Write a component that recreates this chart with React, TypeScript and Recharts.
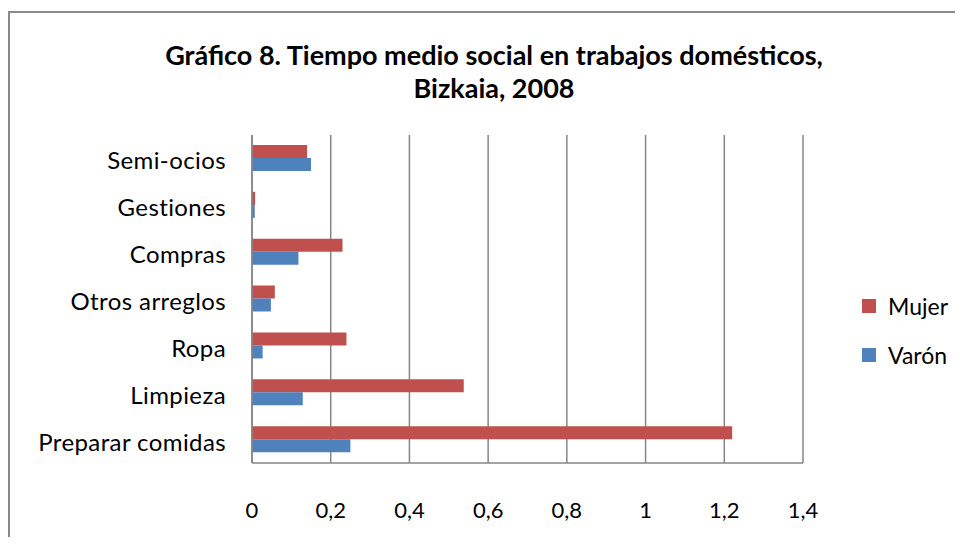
import React from "react";
import { BarChart, Bar, XAxis, YAxis, CartesianGrid } from "recharts";

const categories = [
  "Semi-ocios",
  "Gestiones",
  "Compras",
  "Otros arreglos",
  "Ropa",
  "Limpieza",
  "Preparar comidas",
];
const mujer = [0.14, 0.008, 0.23, 0.058, 0.24, 0.538, 1.22];
const varon = [0.15, 0.007, 0.118, 0.048, 0.027, 0.129, 0.25];
const xTicks = [0, 0.2, 0.4, 0.6, 0.8, 1, 1.2, 1.4];

const data = categories.map((name, i) => ({
  name,
  Mujer: mujer[i],
  Varón: varon[i],
}));

const FONT = "Lato, 'Open Sans', sans-serif";
const GRID = "#868686";
const RED = "#C0504D";
const BLUE = "#4F81BD";

const legendItems = [
  { label: "Mujer", color: RED },
  { label: "Varón", color: BLUE },
];

function CategoryTick({ x, y, payload }: { x?: number; y?: number; payload?: { value: string } }) {
  return (
    <text
      x={x}
      y={y}
      dy={11}
      textAnchor="end"
      fontSize={24}
      fontFamily={FONT}
      fill="#000"
      letterSpacing={0.4}
    >
      {payload?.value}
    </text>
  );
}

export default function App() {
  return (
    <div style={{ position: "relative", width: 963, height: 545, margin: -8, overflow: "hidden", background: "#fff" }}>
      <div
        style={{
          position: "absolute",
          left: 0,
          width: 988,
          top: 38,
          textAlign: "center",
          fontFamily: FONT,
          fontWeight: 700,
          fontSize: 27,
          lineHeight: "33px",
          color: "#000",
        }}
      >
        Gráfico 8. Tiempo medio social en trabajos domésticos,
        <br />
        Bizkaia, 2008
      </div>
      <div style={{ position: "absolute", left: 0, top: 0 }}>
        <BarChart
          width={963}
          height={545}
          data={data}
          layout="vertical"
          margin={{ top: 135, right: 160, bottom: 42, left: 0 }}
          barGap={0}
          barSize={13}
        >
          <CartesianGrid vertical horizontal={false} stroke={GRID} strokeWidth={1.5} />
          <XAxis
            type="number"
            domain={[0, 1.4]}
            ticks={xTicks}
            interval={0}
            axisLine={{ stroke: GRID, strokeWidth: 1.5 }}
            tickLine={false}
            tickSize={0}
            tickMargin={39}
            height={40}
            tick={{ fontSize: 22, fill: "#000", fontFamily: FONT }}
            tickFormatter={(v: number) => String(v).replace(".", ",")}
          />
          <YAxis
            type="category"
            dataKey="name"
            width={252}
            axisLine={{ stroke: GRID, strokeWidth: 1.5 }}
            tickLine={false}
            tickSize={0}
            tickMargin={26}
            interval={0}
            tick={<CategoryTick />}
          />
          <Bar dataKey="Mujer" fill={RED} isAnimationActive={false} />
          <Bar dataKey="Varón" fill={BLUE} isAnimationActive={false} />
        </BarChart>
      </div>
      <div style={{ position: "absolute", left: 862, top: 281, fontFamily: FONT, fontSize: 23, color: "#000" }}>
        {legendItems.map((p) => (
          <div key={p.label} style={{ display: "flex", alignItems: "center", height: 49 }}>
            <span style={{ width: 14, height: 14, background: p.color, marginRight: 12 }} />
            <span>{p.label}</span>
          </div>
        ))}
      </div>
      <div
        style={{
          position: "absolute",
          left: 8,
          top: 11,
          width: 1100,
          height: 700,
          border: "2px solid #898989",
          pointerEvents: "none",
          zIndex: 2,
        }}
      />
    </div>
  );
}
